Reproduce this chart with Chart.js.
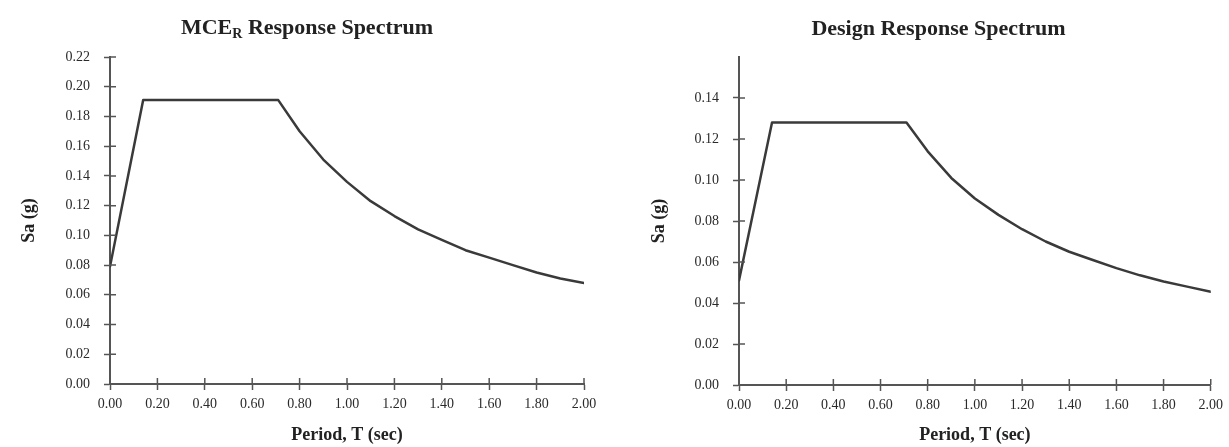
<!DOCTYPE html>
<html><head><meta charset="utf-8">
<script src="https://cdn.jsdelivr.net/npm/chart.js@4.4.1/dist/chart.umd.min.js"></script>
<style>
html,body{margin:0;padding:0;background:#fff;width:1229px;height:447px;overflow:hidden}
.w{position:absolute;top:0;height:447px}
</style></head><body>
<div class="w" style="left:0;width:614px"><canvas id="c1"></canvas></div>
<div class="w" style="left:648px;width:581px"><canvas id="c2"></canvas></div>
<script>
// ---- data ----
const periodMCE = [0.00, 0.14, 0.71, 0.80, 0.90, 1.00, 1.10, 1.20, 1.30, 1.40, 1.50, 1.60, 1.70, 1.80, 1.90, 2.00];
const saMCE     = [0.079, 0.191, 0.191, 0.170, 0.151, 0.136, 0.123, 0.113, 0.104, 0.097, 0.090, 0.085, 0.080, 0.075, 0.071, 0.068];
const periodDesign = [0.00, 0.14, 0.71, 0.80, 0.90, 1.00, 1.10, 1.20, 1.30, 1.40, 1.50, 1.60, 1.70, 1.80, 1.90, 2.00];
const saDesign     = [0.051, 0.128, 0.128, 0.114, 0.101, 0.091, 0.083, 0.076, 0.070, 0.065, 0.061, 0.057, 0.0535, 0.0505, 0.048, 0.0455];
const titleMCE = ["MCE", "R", " Response Spectrum"];
const titleDesign = ["Design Response Spectrum"];
const xAxisTitle = "Period, T (sec)";
const yAxisTitle = "Sa (g)";

const SERIF = '"Liberation Serif", "Times New Roman", serif';
const INK = '#2a2a2a';
const AXIS = '#555';

const titlePlugin = {
  id: 'scanTitle',
  afterDraw(chart, args, opts) {
    const ctx = chart.ctx;
    const parts = opts.parts;
    ctx.save();
    ctx.fillStyle = '#222';
    ctx.textBaseline = 'alphabetic';
    const big = 'bold 22px ' + SERIF, small = 'bold 14px ' + SERIF;
    const fonts = parts.map((p, i) => (parts.length === 3 && i === 1) ? small : big);
    const widths = parts.map((p, i) => { ctx.font = fonts[i]; return ctx.measureText(p).width; });
    const total = widths.reduce((a, b) => a + b, 0);
    let x = chart.width / 2 - total / 2;
    parts.forEach((p, i) => {
      ctx.font = fonts[i];
      const y = (parts.length === 3 && i === 1) ? opts.baseline + 4 : opts.baseline;
      ctx.fillText(p, x, y);
      x += widths[i];
    });
    ctx.restore();
  }
};

const innerTicks = {
  id: 'innerTicks',
  afterDatasetsDraw(chart) {
    const ctx = chart.ctx;
    const xs = chart.scales.x, ys = chart.scales.y;
    ctx.save();
    ctx.strokeStyle = AXIS;
    ctx.lineWidth = 1.5;
    ctx.beginPath();
    xs.ticks.forEach(t => {
      const px = xs.getPixelForValue(t.value);
      ctx.moveTo(px, xs.top); ctx.lineTo(px, xs.top - 6);
    });
    ys.ticks.forEach(t => {
      const py = ys.getPixelForValue(t.value);
      ctx.moveTo(ys.right, py); ctx.lineTo(ys.right + 6, py);
    });
    ctx.stroke();
    ctx.restore();
  }
};

function makeChart(id, xs, ys, cfg) {
  const pts = xs.map((x, i) => ({x: x, y: ys[i]}));
  return new Chart(document.getElementById(id), {
    type: 'scatter',
    data: { datasets: [{
      data: pts, showLine: true, pointRadius: 0, borderColor: '#3a3a3a', borderWidth: 2.5,
      borderJoinStyle: 'round', borderCapStyle: 'round', tension: 0
    }]},
    plugins: [titlePlugin, innerTicks],
    options: {
      responsive: true, maintainAspectRatio: false, animation: false,
      layout: { padding: { left: 0, right: cfg.padRight, top: 57, bottom: 0 } },
      plugins: {
        legend: { display: false }, tooltip: { enabled: false }, title: { display: false },
        scanTitle: { parts: cfg.title, baseline: cfg.baseline }
      },
      scales: {
        x: {
          type: 'linear', min: 0, max: 2,
          ticks: { stepSize: 0.2, callback: v => Number(v).toFixed(2), color: INK, padding: 6,
                   font: { family: SERIF, size: 14 }, maxRotation: 0, autoSkip: false },
          grid: { drawOnChartArea: false, tickLength: 6, tickColor: AXIS, tickWidth: 1.5 },
          border: { color: AXIS, width: 2 },
          title: { display: true, text: xAxisTitle, color: '#222', padding: { top: 0, bottom: 1 },
                   font: { family: SERIF, size: 18, weight: 'bold' } },
          afterFit: s => { s.height = cfg.xAxisHeight; }
        },
        y: {
          type: 'linear', min: 0, max: cfg.yMax,
          ticks: { stepSize: 0.02, callback: v => Number(v).toFixed(2), color: INK, padding: 14,
                   font: { family: SERIF, size: 14 } },
          afterBuildTicks: s => { s.ticks = s.ticks.filter(t => t.value <= cfg.yLastTick + 1e-9); },
          grid: { drawOnChartArea: false, tickLength: 6, tickColor: AXIS, tickWidth: 1.5 },
          border: { color: AXIS, width: 2 },
          title: { display: true, text: yAxisTitle, color: '#222', padding: { top: cfg.yTitlePad, bottom: 0 },
                   font: { family: SERIF, size: 18, weight: 'bold' } },
          afterFit: s => { s.width = cfg.yAxisWidth; }
        }
      }
    }
  });
}

makeChart('c1', periodMCE, saMCE, {
  title: titleMCE, baseline: 34, padRight: 30, xAxisHeight: 63, yMax: 0.22, yLastTick: 0.22,
  yAxisWidth: 110, yTitlePad: 19
});
makeChart('c2', periodDesign, saDesign, {
  title: titleDesign, baseline: 35, padRight: 18, xAxisHeight: 62, yMax: 0.16, yLastTick: 0.14,
  yAxisWidth: 91, yTitlePad: 1
});
</script>
</body></html>
